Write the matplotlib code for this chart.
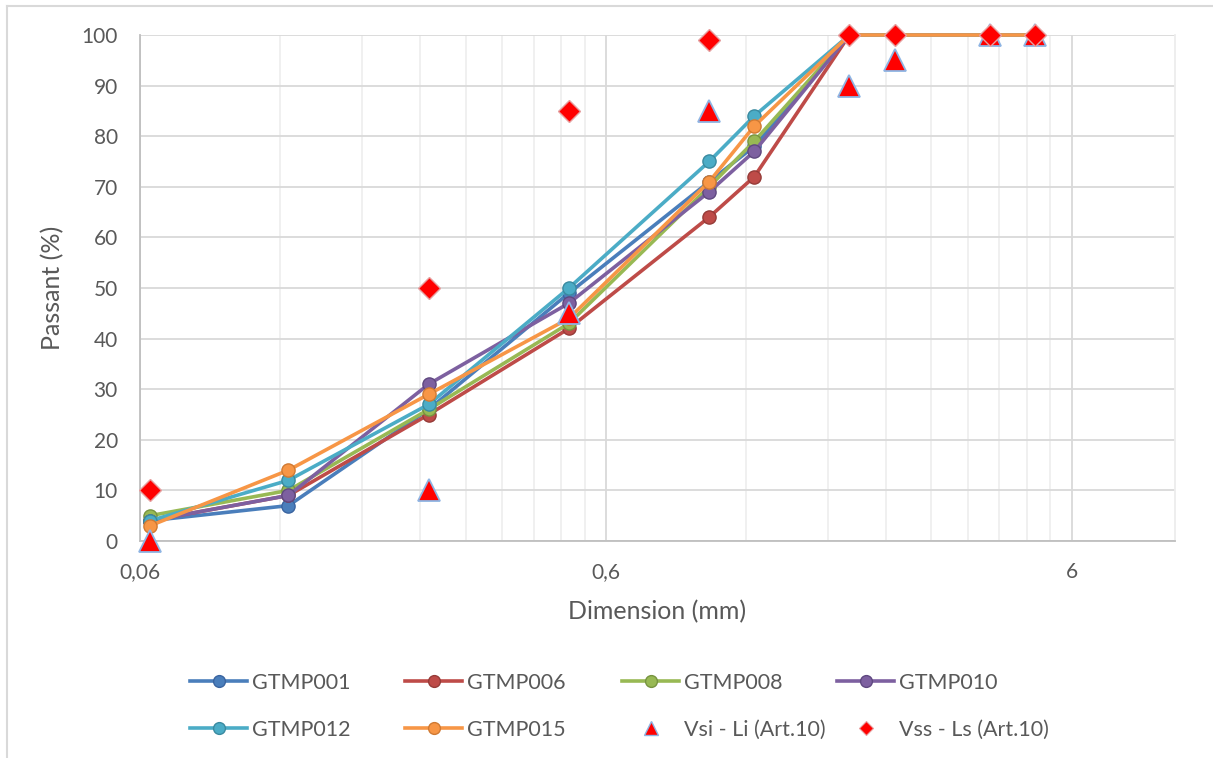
import matplotlib
matplotlib.use("Agg")
import matplotlib.pyplot as plt
from matplotlib.lines import Line2D
from matplotlib.ticker import FixedLocator, FixedFormatter, NullFormatter

plt.rcParams["font.family"] = ["Lato", "DejaVu Sans"]

# sieve openings (mm)
SIEVES = [0.063, 0.125, 0.25, 0.5, 1.0, 1.25, 2.0, 2.5, 4.0, 5.0]

# percent passing per sample
GTMP001 = [4, 7, 26, 49, 71, 78, 100, 100, 100, 100]
GTMP006 = [4, 9, 25, 42, 64, 72, 100, 100, 100, 100]
GTMP008 = [5, 10, 26, 43, 70, 79, 100, 100, 100, 100]
GTMP010 = [4, 9, 31, 47, 69, 77, 100, 100, 100, 100]
GTMP012 = [4, 12, 27, 50, 75, 84, 100, 100, 100, 100]
GTMP015 = [3, 14, 29, 44, 71, 82, 100, 100, 100, 100]

# specification envelope (Art.10)
LIMIT_SIEVES = [0.063, 0.25, 0.5, 1.0, 2.0, 2.5, 4.0, 5.0]
VSI_LOWER = [0, 10, 45, 85, 90, 95, 100, 100]
VSS_UPPER = [10, 50, 85, 99, 100, 100, 100, 100]

SAMPLES = [
    ("GTMP001", GTMP001, "#4A7EBB", "#3A64A0"),
    ("GTMP006", GTMP006, "#BE4B48", "#963B38"),
    ("GTMP008", GTMP008, "#98B954", "#779440"),
    ("GTMP010", GTMP010, "#7D60A0", "#5F4880"),
    ("GTMP012", GTMP012, "#4BACC6", "#3A8AA0"),
    ("GTMP015", GTMP015, "#F79646", "#D07A33"),
]
VSI_LABEL = "Vsi - Li (Art.10)"
VSS_LABEL = "Vss - Ls (Art.10)"

X_MAJOR = [0.06, 0.6, 6]
X_LABELS = ["0,06", "0,6", "6"]

TEXT = "#595959"
GRID = "#D9D9D9"
GRID_MINOR = "#EFEFEF"

W, H = 1213, 758


def main():
    fig = plt.figure(figsize=(W / 100, H / 100), dpi=100)
    ax = fig.add_axes([140 / W, 1 - 541 / H, (1175 - 140) / W, (541 - 35) / H])

    legend_items = []
    for name, values, color, edge in SAMPLES:
        ax.plot(SIEVES, values, color=color, lw=2.6, marker="o", ms=9.5,
                mfc=color, mec=edge, mew=1.0, zorder=3, clip_on=False,
                solid_joinstyle="round")
        legend_items.append((name, Line2D([], [], color=color, lw=2.6, marker="o",
                                          ms=8.5, mfc=color, mec=edge, mew=1.0)))

    ax.plot(LIMIT_SIEVES, VSI_LOWER, ls="none", marker="^", ms=16,
            mfc="#FF0000", mec="#8EB4E3", mew=1.3, zorder=4, clip_on=False)
    ax.plot(LIMIT_SIEVES, VSS_UPPER, ls="none", marker="D", ms=11.5,
            mfc="#FF0000", mec="#E6A0A0", mew=1.0, zorder=5, clip_on=False)
    legend_items.append((VSI_LABEL, Line2D([], [], ls="none", marker="^", ms=10,
                                           mfc="#FF0000", mec="#8EB4E3", mew=1.0)))
    legend_items.append((VSS_LABEL, Line2D([], [], ls="none", marker="D", ms=7.5,
                                           mfc="#FF0000", mec="#E6A0A0", mew=0.8)))

    ax.set_xscale("log")
    ax.set_xlim(0.06, 10)
    ax.set_ylim(0, 100)

    minors = [b * k for b in (0.06, 0.6, 6) for k in range(2, 10) if b * k < 10]
    ax.xaxis.set_major_locator(FixedLocator(X_MAJOR))
    ax.xaxis.set_major_formatter(FixedFormatter(X_LABELS))
    ax.xaxis.set_minor_locator(FixedLocator(minors))
    ax.xaxis.set_minor_formatter(NullFormatter())
    ax.set_yticks(range(0, 101, 10))

    ax.grid(True, which="major", color=GRID, lw=1.3, zorder=0)
    ax.grid(True, which="minor", axis="x", color=GRID_MINOR, lw=1.3, zorder=0)
    ax.set_axisbelow(True)

    ax.tick_params(which="both", length=0, labelsize=15, colors=TEXT)
    ax.tick_params(axis="x", pad=15)
    ax.tick_params(axis="y", pad=16)

    ax.spines["top"].set_visible(False)
    ax.spines["right"].set_color("#EDEDED")
    ax.spines["right"].set_linewidth(1.3)
    for side in ("left", "bottom"):
        ax.spines[side].set_color("#BFBFBF")
        ax.spines[side].set_linewidth(1.3)

    ax.set_xlabel("Dimension (mm)", fontsize=18, color=TEXT, labelpad=13)
    ax.set_ylabel("Passant (%)", fontsize=18, color=TEXT, labelpad=12)

    # legend: two rows, four equally spaced columns
    col_x = [190, 405, 622, 837]
    for i, x in enumerate(col_x):
        pair = [legend_items[i], legend_items[i + 4]]
        fig.legend([h for _, h in pair], [n for n, _ in pair],
                   loc="upper left", bbox_to_anchor=(x / W, 1 - 673 / H),
                   frameon=False, fontsize=15.5, labelcolor=TEXT,
                   handlelength=2.65, handletextpad=0.25, labelspacing=1.25,
                   borderpad=0, borderaxespad=0)

    # outer chart frame (top and left edges)
    fig.add_artist(Line2D([7 / W, 1], [1 - 6 / H, 1 - 6 / H],
                          color="#D9D9D9", lw=1.5, transform=fig.transFigure))
    fig.add_artist(Line2D([7 / W, 7 / W], [0, 1 - 6 / H],
                          color="#D9D9D9", lw=1.5, transform=fig.transFigure))

    fig.savefig("out.png", dpi=100)
    plt.close(fig)


if __name__ == "__main__":
    main()
